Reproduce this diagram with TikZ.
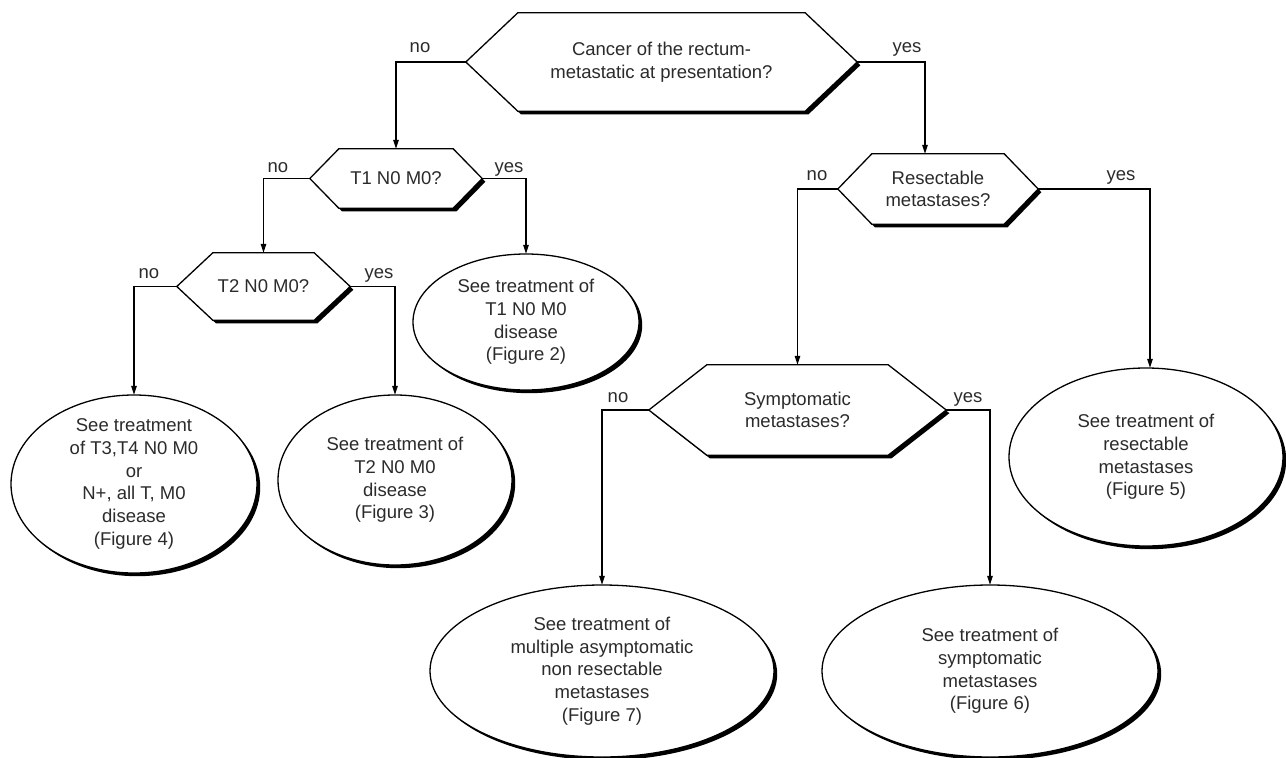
\documentclass[tikz,border=0pt]{standalone}
\usepackage{fontspec}
\setmainfont{Liberation Sans}
\usetikzlibrary{arrows.meta,shadows,backgrounds,calc}
\definecolor{txt}{HTML}{2B2B2B}
\tikzset{
  box/.style={inner sep=0pt, align=center, text=txt, font=\fontsize{18.5}{22.7}\selectfont},
  shp/.style={draw=black, line width=1.3pt, fill=white,
    drop shadow={shadow xshift=3.2pt, shadow yshift=-3.2pt, fill=black, opacity=1}},
  conn/.style={draw=black, line width=1.2pt, -{Triangle[length=9pt,width=5.5pt]}},
  lbl/.style={anchor=base, inner sep=0pt, text=txt, font=\fontsize{18.5}{22.7}\selectfont},
}
\newcommand\hexshape[2]{\path[shp] (#1.west) -- ([xshift=#2pt]#1.north west) -- ([xshift=-#2pt]#1.north east) -- (#1.east) -- ([xshift=-#2pt]#1.south east) -- ([xshift=#2pt]#1.south west) -- cycle;}
\newcommand\ellshape[3]{\path[shp] (#1.center) ellipse [x radius=#2pt, y radius=#3pt];}
\begin{document}
\begin{tikzpicture}[x=1pt,y=-1pt]
\useasboundingbox (0,0) rectangle (1286,758);
% decision nodes
\node[box, minimum width=391, minimum height=98] (q1) at (661.5,62) {Cancer of the rectum-\\metastatic at presentation?};
\node[box, minimum width=172, minimum height=59] (q2) at (396,178.5) {T1 N0 M0?};
\node[box, minimum width=173, minimum height=67] (q3) at (263.5,286.5) {T2 N0 M0?};
\node[box, minimum width=200, minimum height=70] (q4) at (938,189) {Resectable\\metastases?};
\node[box, minimum width=297, minimum height=90] (q5) at (797.5,410) {Symptomatic\\metastases?};
% outcome nodes
\node[box, minimum width=246, minimum height=178] (e1) at (134,484) {See treatment\\of T3,T4 N0 M0\\or\\N+, all T, M0\\disease\\(Figure 4)};
\node[box, minimum width=234, minimum height=170] (e2) at (395,480) {See treatment of\\T2 N0 M0\\disease\\(Figure 3)};
\node[box, minimum width=226, minimum height=136] (e3) at (526,322) {See treatment of\\T1 N0 M0\\disease\\(Figure 2)};
\node[box, minimum width=274, minimum height=178] (e4) at (1146,457) {See treatment of\\resectable\\metastases\\(Figure 5)};
\node[box, minimum width=344, minimum height=172] (e5) at (602,671) {See treatment of\\multiple asymptomatic\\non resectable\\metastases\\(Figure 7)};
\node[box, minimum width=336, minimum height=172] (e6) at (990,671) {See treatment of\\symptomatic\\metastases\\(Figure 6)};
\begin{scope}[on background layer]
\hexshape{q1}{52}
\hexshape{q2}{29}
\hexshape{q3}{36}
\hexshape{q4}{34}
\hexshape{q5}{58}
\ellshape{e1}{123}{89}
\ellshape{e2}{117}{85}
\ellshape{e3}{113}{68}
\ellshape{e4}{137}{89}
\ellshape{e5}{172}{86}
\ellshape{e6}{168}{86}
\end{scope}
% connectors
\draw[conn] (q1.west) -| (q2.north);
\draw[conn] (q1.east) -| ([xshift=-13pt]q4.north);
\draw[conn] (q2.west) -| (q3.north);
\draw[conn] (q2.east) -| (e3.north);
\draw[conn] (q3.west) -| (e1.north);
\draw[conn] (q3.east) -| (e2.north);
\draw[conn] (q4.west) -| (q5.north);
\draw[conn] (q4.east) -| ([xshift=4pt]e4.north);
\draw[conn] (q5.west) -| (e5.north);
\draw[conn] (q5.east) -| (e6.north);
% labels
\node[lbl] (l1n) at (420,52) {no};
\node[lbl] (l1y) at (907,52) {yes};
\node[lbl] (l2n) at (278,172) {no};
\node[lbl] (l2y) at (509,172) {yes};
\node[lbl] (l3n) at (149,278) {no};
\node[lbl] (l3y) at (379,278) {yes};
\node[lbl] (l4n) at (817,180) {no};
\node[lbl] (l4y) at (1121,180) {yes};
\node[lbl] (l5n) at (618,402) {no};
\node[lbl] (l5y) at (968,402) {yes};
\end{tikzpicture}
\end{document}
